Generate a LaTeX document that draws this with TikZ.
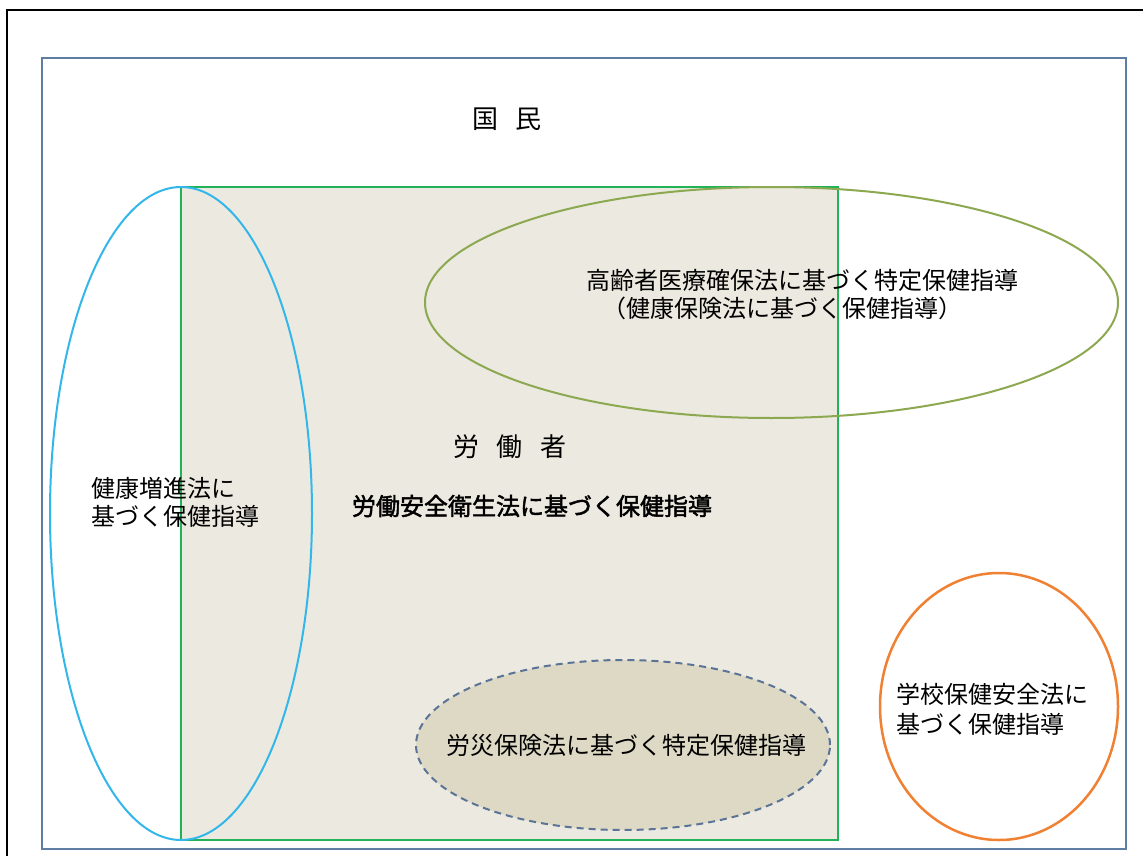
\documentclass[tikz,border=0pt]{standalone}
\usepackage{fontspec}
\newfontfamily\jp{Noto Sans CJK JP}
\newfontfamily\jpb[FakeBold=2]{Noto Sans CJK JP}
\definecolor{frameblue}{RGB}{96,125,164}
\definecolor{greenline}{RGB}{34,178,88}
\definecolor{beigefill}{RGB}{236,234,224}
\definecolor{skyline}{RGB}{51,183,235}
\definecolor{oliveline}{RGB}{140,168,80}
\definecolor{dashline}{RGB}{90,115,150}
\definecolor{tanfill}{RGB}{221,217,196}
\definecolor{orangeline}{RGB}{240,128,50}
\begin{document}
\begin{tikzpicture}[x=1pt,y=-1pt,
  txt/.style={font=\jp\fontsize{24}{28}\selectfont, inner sep=0pt, text=black},
  txtbig/.style={font=\jp\fontsize{26}{30}\selectfont, inner sep=0pt, text=black},
  txtbold/.style={font=\jpb\fontsize{24}{28}\selectfont, inner sep=0pt, text=black},
  shapeline/.style={line width=2pt}]
\useasboundingbox (0,0) rectangle (1143,856);
\fill[white] (0,0) rectangle (1143,856);
\draw[black, line width=2.5pt] (7,10) rectangle (1170,890);
\draw[frameblue, line width=2.5pt] (42,58) rectangle (1126,849);
\draw[shapeline, greenline, fill=beigefill] (181,187) rectangle (838,840);
\draw[shapeline, skyline] (181,513.5) ellipse [x radius=131pt, y radius=326.5pt];
\draw[shapeline, oliveline] (771.5,302.5) ellipse [x radius=346.5pt, y radius=115.5pt];
\draw[shapeline, dashline, dash pattern=on 7pt off 5pt, fill=tanfill] (623,745) ellipse [x radius=207pt, y radius=85pt];
\draw[line width=2.5pt, orangeline] (999,706.5) ellipse [x radius=119pt, y radius=133.5pt];

\node[txtbig] (kokumin) at (507,119) {国\hspace{18pt}民};
\node[txtbig] (roudousha) at (510,447) {労\hspace{18pt}働\hspace{18pt}者};
\node[txtbold] (anei) at (532,506) {労働安全衛生法に基づく保健指導};
\node[txt] (kourei1) at (802,280) {高齢者医療確保法に基づく特定保健指導};
\node[txt] (kourei2) at (782,308) {（健康保険法に基づく保健指導）};
\node[txt, anchor=west] (kenkou1) at (91,488) {健康増進法に};
\node[txt, anchor=west] (kenkou2) at (91,516) {基づく保健指導};
\node[txt, anchor=west] (gakkou1) at (896,694) {学校保健安全法に};
\node[txt, anchor=west] (gakkou2) at (896,724) {基づく保健指導};
\node[txt] (rousai) at (626,745) {労災保険法に基づく特定保健指導};
\end{tikzpicture}
\end{document}
